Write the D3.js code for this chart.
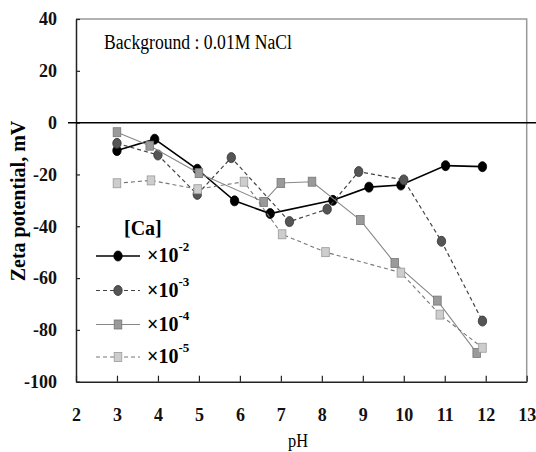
<!DOCTYPE html>
<html>
<head>
<meta charset="utf-8">
<script src="https://cdn.jsdelivr.net/npm/d3@7"></script>
<style>
  body { margin: 0; background: #fff; }
  svg text { font-family: "Liberation Serif", "DejaVu Serif", serif; }
</style>
</head>
<body>
<div id="chart"></div>
<script>

// pH / zeta potential (mV), one pair of arrays per [Ca]
const ph_e2   = [3.0, 3.92, 4.96, 5.87, 6.74, 8.27, 9.15, 9.93, 11.02, 11.92] ;
const zeta_e2 = [-10.8, -6.4, -18, -30.2, -35.1, -30, -24.9, -24.1, -16.6, -17] ;

const ph_e3   = [3.0, 4.0, 4.96, 5.79, 7.21, 8.13, 8.9, 10.0, 10.92, 11.92] ;
const zeta_e3 = [-8, -12.5, -27.7, -13.5, -38.2, -33.4, -18.9, -22.1, -45.8, -76.6] ;

const ph_e4   = [3.0, 3.8, 5.0, 6.58, 7.0, 7.76, 8.94, 9.78, 10.82, 11.78] ;
const zeta_e4 = [-3.7, -8.9, -19.5, -30.6, -23.3, -22.8, -37.6, -54.2, -68.7, -88.9] ;

const ph_e5   = [3.0, 3.83, 4.97, 6.1, 7.03, 8.09, 9.93, 10.88, 11.92] ;
const zeta_e5 = [-23.4, -22.3, -25.7, -22.8, -43.1, -50, -57.9, -74.1, -86.9] ;

const x_ticks = [2, 3, 4, 5, 6, 7, 8, 9, 10, 11, 12, 13] ;
const y_ticks = [-100, -80, -60, -40, -20, 0, 20, 40] ;
const legend_exps = ["-2", "-3", "-4", "-5"] ;

const zip = (xs, ys) => xs.map((x, i) => ({ph: x, zeta: ys[i]})) ;

const series = [
  {exp: legend_exps[0], pts: zip(ph_e2, zeta_e2), shape: "circle", fill: "#000", stroke: "#000", line: "#000", lw: 1.6, dash: null},
  {exp: legend_exps[1], pts: zip(ph_e3, zeta_e3), shape: "circle", fill: "#555", stroke: "#333", line: "#444", lw: 1.2, dash: "4,3"},
  {exp: legend_exps[2], pts: zip(ph_e4, zeta_e4), shape: "square", fill: "#9a9a9a", stroke: "#777", line: "#888", lw: 1.1, dash: null},
  {exp: legend_exps[3], pts: zip(ph_e5, zeta_e5), shape: "square", fill: "#cdcdcd", stroke: "#999", line: "#777", lw: 1.1, dash: "4,3"},
] ;

let dimensions = {
  width: 536,
  height: 452,
  margin: {top: 19, right: 9.3, bottom: 70.3, left: 76},
}
dimensions.boundedWidth = dimensions.width - dimensions.margin.left - dimensions.margin.right
dimensions.boundedHeight = dimensions.height - dimensions.margin.top - dimensions.margin.bottom

const svg = d3.select("#chart").append("svg")
    .attr("width", dimensions.width)
    .attr("height", dimensions.height)
;
const bounds = svg.append("g")
    .attr("transform", `translate(${dimensions.margin.left},${dimensions.margin.top})`)
;

const xScale = d3.scaleLinear()
  .domain([2, 13])
  .range([0, dimensions.boundedWidth])
;
const yScale = d3.scaleLinear()
  .domain([-100, 40])
  .range([dimensions.boundedHeight, 0])
;

// frame: grey top and right edges
bounds.append("path")
  .attr("d", `M0,0H${dimensions.boundedWidth}V${dimensions.boundedHeight}`)
  .attr("fill", "none")
  .attr("stroke", "#999")
  .attr("stroke-width", 1.5)
;

// axes, ticks pointing inwards ; plain hyphen for negatives like the original
const xAxis = bounds.append("g")
  .attr("transform", `translate(0,${dimensions.boundedHeight})`)
  .call(d3.axisBottom(xScale).tickValues(x_ticks).tickSizeInner(-6).tickSizeOuter(0).tickPadding(27).tickFormat(d => String(d)))
;
const yAxis = bounds.append("g")
  .call(d3.axisLeft(yScale).tickValues(y_ticks).tickSizeInner(-4).tickSizeOuter(0).tickPadding(19).tickFormat(d => String(d)))
;
[xAxis, yAxis].forEach(a => {
  a.attr("font-family", null) ;
  a.select(".domain").attr("stroke", "#222").attr("stroke-width", 1.5) ;
  a.selectAll(".tick line").attr("stroke", "#222").attr("stroke-width", 1.2) ;
  a.selectAll(".tick text")
    .attr("fill", "#111")
    .style("font-weight", "bold")
    .style("font-size", "18px") ;
}) ;

// zero line runs out past the frame
bounds.append("line")
  .attr("x1", -8)
  .attr("x2", dimensions.width - dimensions.margin.left)
  .attr("y1", yScale(0))
  .attr("y2", yScale(0))
  .attr("stroke", "#000")
  .attr("stroke-width", 1.5)
;

function drawMarker(g, s, x, y) {
  if (s.shape == "circle") {
    g.append("ellipse")
      .attr("cx", x).attr("cy", y)
      .attr("rx", 4.2).attr("ry", 5)
      .attr("fill", s.fill).attr("stroke", s.stroke).attr("stroke-width", 0.8) ;
  } else {
    g.append("rect")
      .attr("x", x - 3.8).attr("y", y - 4.5)
      .attr("width", 7.6).attr("height", 9)
      .attr("fill", s.fill).attr("stroke", s.stroke).attr("stroke-width", 0.8) ;
  }
}

const lineGen = d3.line()
  .x(d => xScale(d.ph))
  .y(d => yScale(d.zeta))
;

series.forEach(s => {
  const g = bounds.append("g") ;
  g.append("path")
    .datum(s.pts)
    .attr("d", lineGen)
    .attr("fill", "none")
    .attr("stroke", s.line)
    .attr("stroke-width", s.lw)
    .attr("stroke-dasharray", s.dash)
  ;
  s.pts.forEach(p => drawMarker(g, s, xScale(p.ph), yScale(p.zeta))) ;
}) ;

// annotation (the original text is a bit condensed)
svg.append("text")
  .attr("x", 104)
  .attr("y", 49)
  .attr("textLength", 188)
  .attr("lengthAdjust", "spacingAndGlyphs")
  .style("font-size", "20px")
  .text("Background : 0.01M NaCl")
;

// legend
const legend = svg.append("g") ;
legend.append("text")
  .attr("x", 124)
  .attr("y", 235)
  .style("font-size", "20px")
  .style("font-weight", "bold")
  .text("[Ca]")
;
const rowY = [256, 290.5, 324.5, 357] ;
series.forEach((s, i) => {
  const y = rowY[i] ;
  legend.append("line")
    .attr("x1", 96).attr("x2", 140)
    .attr("y1", y).attr("y2", y)
    .attr("stroke", s.line)
    .attr("stroke-width", s.lw)
    .attr("stroke-dasharray", s.dash) ;
  drawMarker(legend, s, 118, y) ;
  const t = legend.append("text")
    .attr("x", 147)
    .attr("y", y + 6)
    .style("font-size", "20px")
    .style("font-weight", "bold") ;
  t.append("tspan").text("\u00d710") ;
  t.append("tspan").attr("dy", -11).style("font-size", "13px").text(s.exp) ;
}) ;

// axis titles
svg.append("text")
  .attr("x", 288)
  .attr("y", 447)
  .attr("textLength", 20)
  .attr("lengthAdjust", "spacingAndGlyphs")
  .style("font-size", "19px")
  .text("pH")
;
svg.append("text")
  .attr("transform", "translate(25,201) rotate(-90)")
  .attr("text-anchor", "middle")
  .style("font-size", "20px")
  .style("font-weight", "bold")
  .text("Zeta potential, mV")
;
</script>
</body>
</html>
